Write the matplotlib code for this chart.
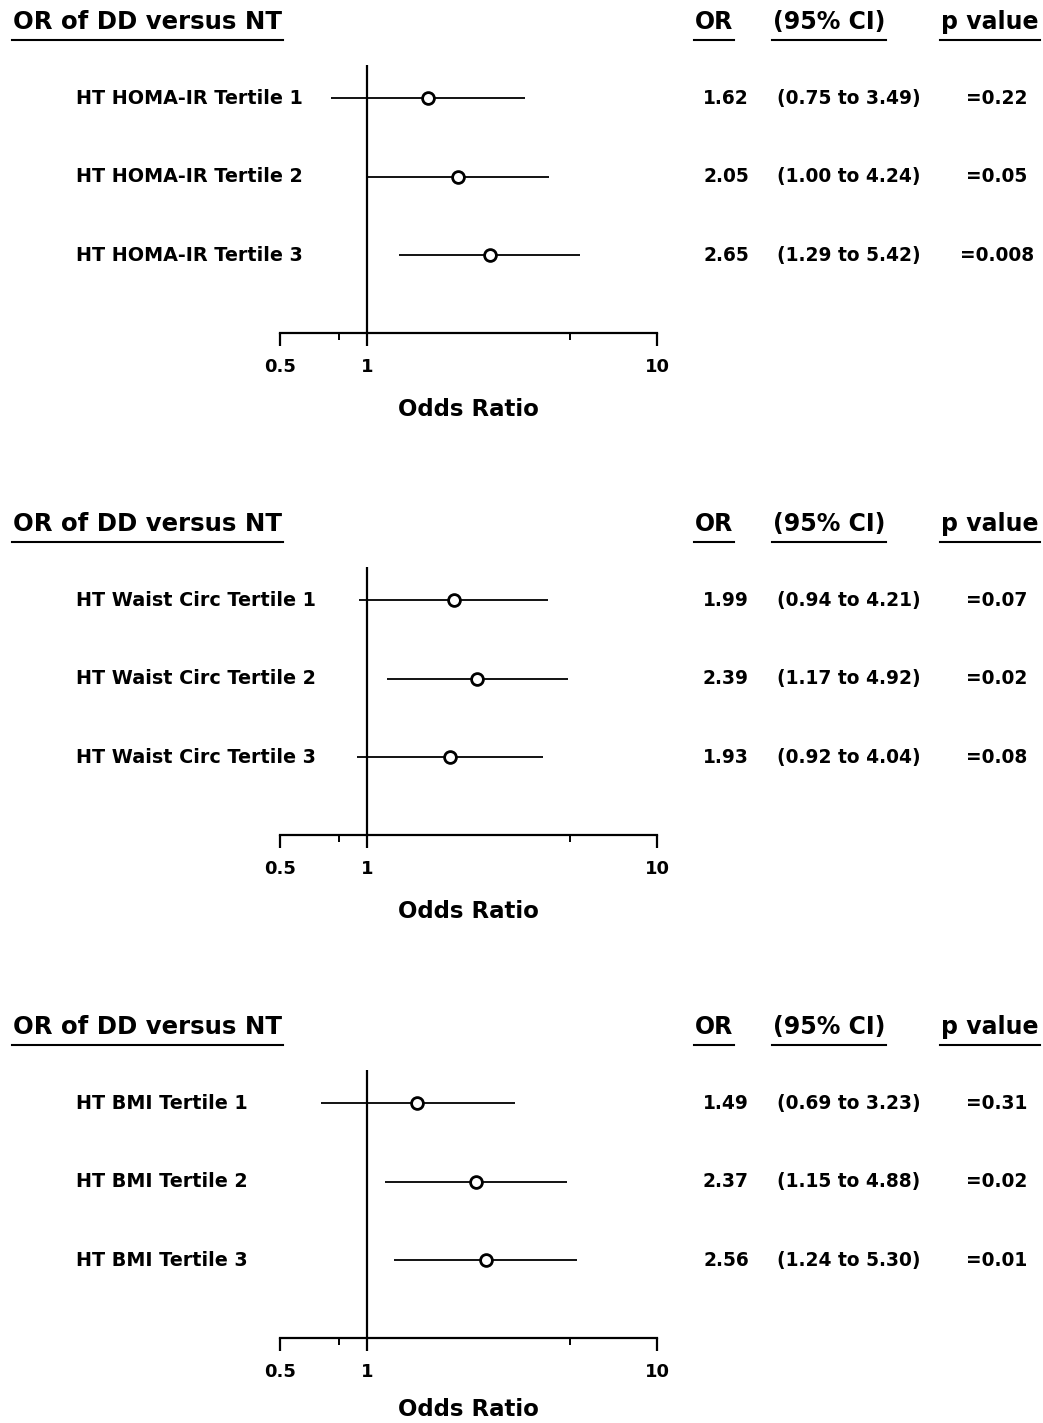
import matplotlib
matplotlib.use("Agg")
import matplotlib.pyplot as plt
from matplotlib.lines import Line2D
from matplotlib.transforms import blended_transform_factory

plt.rcParams['font.family'] = ['DejaVu Sans']
plt.rcParams['font.weight'] = 'bold'

# data
homa_labels = ["HT HOMA-IR Tertile 1", "HT HOMA-IR Tertile 2", "HT HOMA-IR Tertile 3"]
homa_or = [1.62, 2.05, 2.65]
homa_lo = [0.75, 1.00, 1.29]
homa_hi = [3.49, 4.24, 5.42]
homa_p = ["=0.22", "=0.05", "=0.008"]

waist_labels = ["HT Waist Circ Tertile 1", "HT Waist Circ Tertile 2", "HT Waist Circ Tertile 3"]
waist_or = [1.99, 2.39, 1.93]
waist_lo = [0.94, 1.17, 0.92]
waist_hi = [4.21, 4.92, 4.04]
waist_p = ["=0.07", "=0.02", "=0.08"]

bmi_labels = ["HT BMI Tertile 1", "HT BMI Tertile 2", "HT BMI Tertile 3"]
bmi_or = [1.49, 2.37, 2.56]
bmi_lo = [0.69, 1.15, 1.24]
bmi_hi = [3.23, 4.88, 5.30]
bmi_p = ["=0.31", "=0.02", "=0.01"]

major_ticks = [0.5, 1, 10]
minor_ticks = [0.8, 5]
tick_labels = ["0.5", "1", "10"]

panels = [
    (homa_labels, homa_or, homa_lo, homa_hi, homa_p),
    (waist_labels, waist_or, waist_lo, waist_hi, waist_p),
    (bmi_labels, bmi_or, bmi_lo, bmi_hi, bmi_p),
]
panel_tops = [22, 524, 1027]  # pixel y of the header line
xlabel_pads = [16, 16, 12]     # last one nudged so it stays inside the figure

W, H = 1043, 1423
fig = plt.figure(figsize=(W / 100, H / 100), dpi=100)

def fx(x):
    return x / W

def fy(y):
    return 1 - y / H

headers = []
for (labels, ors, lo, hi, pv), t, lp in zip(panels, panel_tops, xlabel_pads):
    ax = fig.add_axes([fx(280), fy(t + 311), 377 / W, 268 / H])
    ax.set_xscale('log')
    ax.set_xlim(0.5, 10)
    ax.set_ylim(3.99, 0.58)
    rows = list(range(1, len(labels) + 1))

    ax.axvline(1, color='black', lw=1.6, zorder=1)
    ax.hlines(rows, lo, hi, color='black', lw=1.3, zorder=2)
    ax.plot(ors, rows, 'o', ms=8.5, mfc='white', mec='black', mew=2.0, zorder=3)

    for s in ['top', 'right', 'left']:
        ax.spines[s].set_visible(False)
    ax.spines['bottom'].set_linewidth(1.6)
    ax.set_yticks([])
    ax.set_xticks(major_ticks)
    ax.set_xticklabels(tick_labels)
    ax.set_xticks(minor_ticks, minor=True)
    ax.set_xticklabels([], minor=True)
    ax.tick_params(axis='x', which='major', length=9, width=1.6, labelsize=13, pad=9)
    ax.tick_params(axis='x', which='minor', length=5, width=1.4)
    ax.set_xlabel("Odds Ratio", fontsize=16.5, fontweight='bold', labelpad=lp)

    tr = blended_transform_factory(fig.transFigure, ax.transData)
    for r, lab, o, l, h, p in zip(rows, labels, ors, lo, hi, pv):
        ax.text(fx(76), r, lab, transform=tr, ha='left', va='center', fontsize=13.8)
        ax.text(fx(726), r, f"{o:.2f}", transform=tr, ha='center', va='center', fontsize=13.4)
        ax.text(fx(849), r, f"({l:.2f} to {h:.2f})", transform=tr, ha='center', va='center', fontsize=13.4)
        ax.text(fx(997), r, p, transform=tr, ha='center', va='center', fontsize=13.4)

    headers.append((t, fig.text(fx(13), fy(t), "OR of DD versus NT", ha='left', va='center', fontsize=17.6)))
    headers.append((t, fig.text(fx(714), fy(t), "OR", ha='center', va='center', fontsize=17)))
    headers.append((t, fig.text(fx(829), fy(t), "(95% CI)", ha='center', va='center', fontsize=17)))
    headers.append((t, fig.text(fx(990), fy(t), "p value", ha='center', va='center', fontsize=17)))

# underline the header texts
fig.canvas.draw()
for t, txt in headers:
    bb = txt.get_window_extent()
    fig.add_artist(Line2D([fx(bb.x0 - 1), fx(bb.x1 + 1)], [fy(t + 18), fy(t + 18)],
                          transform=fig.transFigure, color='black', lw=1.5))

fig.savefig("out.png", dpi=100, facecolor='white')
